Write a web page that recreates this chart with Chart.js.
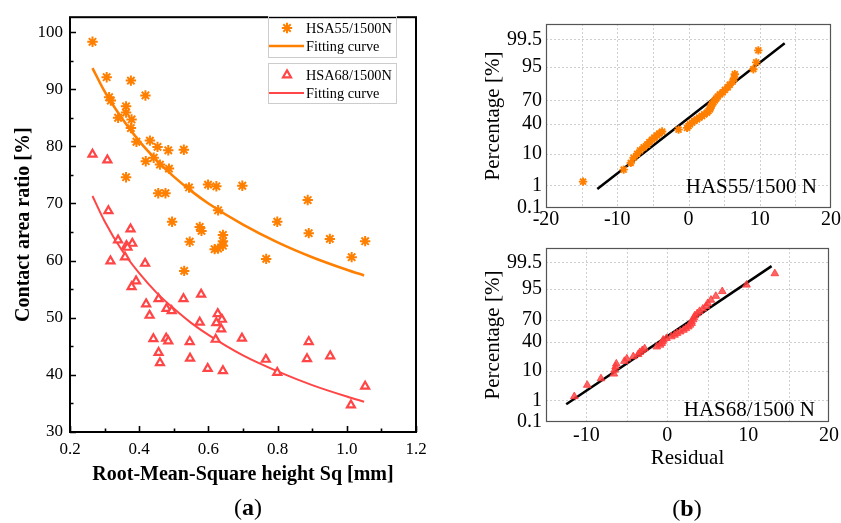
<!DOCTYPE html>
<html><head><meta charset="utf-8">
<script src="https://cdn.jsdelivr.net/npm/chart.js@4"></script>
<style>
html,body{margin:0;padding:0;background:#fff;}
body{width:841px;height:523px;position:relative;overflow:hidden;font-family:'Liberation Serif','Times New Roman',serif;}
canvas{position:absolute;}
#cA{left:0;top:0;}
#cB1{left:470px;top:0;}
#cB2{left:470px;top:232px;}
.lab{position:absolute;font-size:24px;transform:translate(-50%,-50%);white-space:nowrap;color:#000;}
</style></head><body>
<canvas id="cA" width="440" height="523"></canvas>
<canvas id="cB1" width="371" height="234"></canvas>
<canvas id="cB2" width="371" height="291"></canvas>
<div class="lab" style="left:248px;top:507px;">(<b>a</b>)</div>
<div class="lab" style="left:687px;top:508px;">(<b>b</b>)</div>
<script>
// ---------- data: panel (a) ----------
const sqHSA55 = [0.265,0.306,0.376,0.418,0.313,0.318,0.362,0.362,0.339,0.378,0.376,0.392,0.431,0.453,0.484,0.529,0.419,0.442,0.460,0.486,0.362,0.455,0.476,0.544,0.599,0.623,0.698,0.628,0.887,0.495,0.799,0.575,0.580,0.642,0.890,0.951,1.053,0.546,0.642,0.642,0.628,0.618,0.767,1.014,0.530];
const areaHSA55 = [98.3,92.1,91.5,88.9,88.6,88.0,87.0,85.9,85.0,84.7,83.2,80.8,81.0,79.9,79.3,79.4,77.4,78.0,76.8,76.1,74.6,71.8,71.8,72.8,73.3,73.0,73.1,68.8,70.6,66.8,66.8,65.9,65.2,64.5,64.8,63.8,63.4,63.3,63.4,62.6,62.1,62.0,60.3,60.6,58.2];
const sqHSA68 = [0.265,0.308,0.311,0.375,0.339,0.363,0.380,0.366,0.317,0.359,0.417,0.391,0.378,0.579,0.420,0.456,0.528,0.430,0.479,0.494,0.627,0.639,0.623,0.575,0.637,0.621,0.697,0.441,0.478,0.484,0.546,0.890,0.456,0.547,0.766,0.885,0.952,0.460,0.598,0.642,0.799,1.053,1.012];
const areaHSA68 = [78.6,77.6,68.7,65.5,63.6,62.6,63.0,62.3,59.9,60.6,59.5,56.4,55.4,54.1,52.4,53.3,53.3,50.4,51.6,51.2,50.7,49.7,49.1,49.2,48.0,46.2,46.4,46.3,46.4,45.9,45.8,45.8,43.9,42.9,42.7,42.8,43.3,42.1,41.1,40.7,40.4,38.0,34.7];
const fitSq = [0.265,0.3,0.35,0.4,0.45,0.5,0.55,0.6,0.7,0.8,0.9,1.0,1.05];
const fitHSA55 = [93.7,89.6,84.9,80.9,77.6,74.7,72.2,70.0,66.3,63.2,60.6,58.4,57.4];
const fitHSA68 = [71.3,66.9,61.8,57.8,54.4,51.6,49.1,47.0,43.4,40.6,38.2,36.2,35.3];
const xTicksA = [0.2,0.4,0.6,0.8,1.0,1.2];
const xMinorA = [0.3,0.5,0.7,0.9,1.1];
const yTicksA = [30,40,50,60,70,80,90,100];
const yMinorA = [35,45,55,65,75,85,95];

// ---------- data: panel (b) ----------
const resid55 = [-14.8,-9.1,-8.1,-7.7,-7.2,-6.8,-6.3,-5.8,-5.5,-5.1,-4.8,-4.4,-4.1,-3.7,-1.4,-0.2,0.0,0.2,0.5,0.8,1.2,1.5,1.9,2.2,2.6,2.8,3.0,3.1,3.2,3.3,3.5,3.7,3.9,4.1,4.4,4.8,5.1,5.5,5.8,6.2,6.4,6.5,9.1,9.5,9.8];
const pct55 = [1.38,3.59,5.80,8.01,10.22,12.43,14.64,16.85,19.06,21.27,23.48,25.69,27.90,30.11,32.32,34.53,36.74,38.95,41.16,43.37,45.58,47.79,50.00,52.21,54.42,56.63,58.84,61.05,63.26,65.47,67.68,69.89,72.10,74.31,76.52,78.73,80.94,83.15,85.36,87.57,89.78,91.99,94.20,96.41,98.62];
const resid68 = [-11.5,-9.9,-8.2,-6.6,-6.5,-6.4,-6.3,-5.3,-5.0,-4.2,-3.6,-3.4,-3.1,-2.8,-1.3,-0.9,-0.7,-0.6,-0.5,-0.1,0.5,0.9,1.2,1.6,2.0,2.3,2.6,2.8,3.0,3.0,3.2,3.3,3.4,3.7,4.0,4.4,4.8,5.0,5.4,6.0,6.8,9.8,13.3];
const pct68 = [1.45,3.76,6.07,8.38,10.69,13.01,15.32,17.63,19.94,22.25,24.57,26.88,29.19,31.50,33.82,36.13,38.44,40.75,43.06,45.38,47.69,50.00,52.31,54.62,56.94,59.25,61.56,63.87,66.18,68.50,70.81,73.12,75.43,77.75,80.06,82.37,84.68,86.99,89.31,91.62,93.93,96.24,98.55];
const lineResid55 = [-12.8,13.5];
const linePct55 = [0.71,99.27];
const lineResid68 = [-12.5,12.9];
const linePct68 = [0.69,99.28];
const pctTicks = [0.1,1,10,40,70,95,99.5];
const pctTickLabels = ['0.1','1','10','40','70','95','99.5'];
const xTicksB1 = [-20,-15,-10,-5,0,5,10,15,20];
const xTicksB2 = [-15,-10,-5,0,5,10,15,20];

const ORANGE = '#FF7F00';
const RED = '#FF4545';
const SERIF = "'Liberation Serif','Times New Roman',serif";
Chart.defaults.font.family = SERIF;
Chart.defaults.color = '#000';

// inverse standard normal CDF (probability-axis transform)
function probit(p){
  const a=[-3.969683028665376e+01,2.209460984245205e+02,-2.759285104469687e+02,1.383577518672690e+02,-3.066479806614716e+01,2.506628277459239e+00];
  const b=[-5.447609879822406e+01,1.615858368580409e+02,-1.556989798598866e+02,6.680131188771972e+01,-1.328068155288572e+01];
  const c=[-7.784894002430293e-03,-3.223964580411365e-01,-2.400758277161838e+00,-2.549732539343734e+00,4.374664141464968e+00,2.938163982698783e+00];
  const d=[7.784695709041462e-03,3.224671290700398e-01,2.445134137142996e+00,3.754408661907416e+00];
  const pl=0.02425, ph=1-pl; let q,r;
  if(p<pl){q=Math.sqrt(-2*Math.log(p));return (((((c[0]*q+c[1])*q+c[2])*q+c[3])*q+c[4])*q+c[5])/((((d[0]*q+d[1])*q+d[2])*q+d[3])*q+1);}
  if(p<=ph){q=p-0.5;r=q*q;return (((((a[0]*r+a[1])*r+a[2])*r+a[3])*r+a[4])*r+a[5])*q/(((((b[0]*r+b[1])*r+b[2])*r+b[3])*r+b[4])*r+1);}
  q=Math.sqrt(-2*Math.log(1-p));return -(((((c[0]*q+c[1])*q+c[2])*q+c[3])*q+c[4])*q+c[5])/((((d[0]*q+d[1])*q+d[2])*q+d[3])*q+1);
}
const pts = (xs, ys) => xs.map((x,i)=>({x:x, y:ys[i]}));
const ptsP = (xs, ps) => xs.map((x,i)=>({x:x, y:probit(ps[i]/100)}));

// ---------- panel (a) plugins ----------
const frameTicksA = {
  id:'frameTicksA',
  afterDatasetsDraw(chart){
    const {ctx, chartArea:ca, scales:{x,y}} = chart;
    ctx.save();
    ctx.strokeStyle='#000'; ctx.lineWidth=1.6;
    ctx.beginPath();
    xTicksA.forEach(v=>{const px=Math.round(x.getPixelForValue(v))+0.5; ctx.moveTo(px,ca.bottom); ctx.lineTo(px,ca.bottom-6);});
    xMinorA.forEach(v=>{const px=Math.round(x.getPixelForValue(v))+0.5; ctx.moveTo(px,ca.bottom); ctx.lineTo(px,ca.bottom-3.5);});
    yTicksA.forEach(v=>{const py=Math.round(y.getPixelForValue(v))+0.5; ctx.moveTo(ca.left,py); ctx.lineTo(ca.left+6,py);});
    yMinorA.forEach(v=>{const py=Math.round(y.getPixelForValue(v))+0.5; ctx.moveTo(ca.left,py); ctx.lineTo(ca.left+3.5,py);});
    ctx.stroke();
    ctx.lineWidth=2;
    ctx.strokeRect(ca.left,ca.top,ca.right-ca.left,ca.bottom-ca.top);
    ctx.restore();
  }
};
const legendA = {
  id:'legendA',
  afterDraw(chart){
    const ctx = chart.ctx, ds = chart.data.datasets;
    ctx.save();
    ctx.strokeStyle='#cccccc'; ctx.lineWidth=1;
    ctx.strokeRect(268.5,16.5,128,41);
    ctx.strokeRect(268.5,63.5,128,40);
    ctx.font = '14.3px '+SERIF; ctx.fillStyle='#000'; ctx.textAlign='left'; ctx.textBaseline='middle';
    const rows = [[0,28],[2,46],[1,75],[3,93]];
    rows.forEach(([i,yy])=>{
      const d = ds[i];
      if (d.showLine){
        ctx.strokeStyle=d.borderColor; ctx.lineWidth=d.borderWidth;
        ctx.beginPath(); ctx.moveTo(269,yy); ctx.lineTo(304,yy); ctx.stroke();
      } else {
        ctx.strokeStyle=d.borderColor; ctx.fillStyle=d.backgroundColor; ctx.lineWidth=d.borderWidth;
        Chart.helpers.drawPoint(ctx,{pointStyle:d.pointStyle,radius:d.pointRadius,borderWidth:d.borderWidth,rotation:0},287,yy);
      }
      ctx.fillStyle='#000';
      ctx.fillText(d.label,306,yy+1);
    });
    ctx.restore();
  }
};

new Chart(document.getElementById('cA'), {
  type:'scatter',
  data:{datasets:[
    {label:'HSA55/1500N', data:pts(sqHSA55,areaHSA55), pointStyle:'star', pointRadius:5.2, borderWidth:2, borderColor:ORANGE, backgroundColor:ORANGE},
    {label:'HSA68/1500N', data:pts(sqHSA68,areaHSA68), pointStyle:'triangle', pointRadius:4.6, borderWidth:2.2, borderColor:RED, backgroundColor:'#ffffff'},
    {label:'Fitting curve', data:pts(fitSq,fitHSA55), showLine:true, pointRadius:0, borderColor:ORANGE, borderWidth:2.6, cubicInterpolationMode:'monotone', fill:false},
    {label:'Fitting curve', data:pts(fitSq,fitHSA68), showLine:true, pointRadius:0, borderColor:RED, borderWidth:2, cubicInterpolationMode:'monotone', fill:false}
  ]},
  options:{
    responsive:false, animation:false, devicePixelRatio:1,
    layout:{padding:{left:0,top:12,right:24,bottom:0}, autoPadding:false},
    plugins:{legend:{display:false}, tooltip:{enabled:false}},
    scales:{
      x:{type:'linear', min:0.2, max:1.2,
        afterBuildTicks:s=>{s.ticks = xTicksA.map(v=>({value:v}));},
        afterFit:s=>{s.height=91;},
        grid:{display:false, drawTicks:false}, border:{display:false},
        ticks:{autoSkip:false, maxRotation:0, padding:7, color:'#000', font:{family:SERIF, size:17}, callback:v=>Number(v).toFixed(1)},
        title:{display:true, text:'Root-Mean-Square height Sq [mm]', color:'#000', font:{family:SERIF, size:20, weight:'bold'}, padding:{top:0,bottom:36}}
      },
      y:{type:'linear', min:30, max:102.6,
        afterBuildTicks:s=>{s.ticks = yTicksA.map(v=>({value:v}));},
        afterFit:s=>{s.width=70;},
        grid:{display:false, drawTicks:false}, border:{display:false},
        ticks:{autoSkip:false, padding:7, color:'#000', font:{family:SERIF, size:17}, callback:v=>String(v)},
        title:{display:true, text:'Contact area ratio [%]', color:'#000', font:{family:SERIF, size:20, weight:'bold'}, padding:{top:12,bottom:0}}
      }
    }
  },
  plugins:[frameTicksA, legendA]
});

// ---------- panel (b) ----------
function gridFramePlugin(xTicks, note, noteY){
  return {
    id:'gridFrame',
    beforeDatasetsDraw(chart){
      const {ctx, chartArea:ca, scales:{x,y}} = chart;
      ctx.save();
      ctx.strokeStyle='#cfcfcf'; ctx.lineWidth=1; ctx.setLineDash([2,2]);
      ctx.beginPath();
      xTicks.forEach(v=>{const px=Math.round(x.getPixelForValue(v))+0.5; if(px>ca.left+1 && px<ca.right-1){ctx.moveTo(px,ca.top); ctx.lineTo(px,ca.bottom);}});
      pctTicks.forEach(p=>{const py=Math.round(y.getPixelForValue(probit(p/100)))+0.5; if(py>ca.top+1 && py<ca.bottom-1){ctx.moveTo(ca.left,py); ctx.lineTo(ca.right,py);}});
      ctx.stroke();
      ctx.restore();
    },
    afterDatasetsDraw(chart){
      const {ctx, chartArea:ca} = chart;
      ctx.save();
      ctx.strokeStyle='#555'; ctx.lineWidth=1.2;
      ctx.strokeRect(ca.left+0.5,ca.top+0.5,ca.right-ca.left-1,ca.bottom-ca.top-1);
      ctx.font='21px '+SERIF; ctx.fillStyle='#000'; ctx.textAlign='right'; ctx.textBaseline='middle';
      ctx.fillText(note, ca.right-14, ca.top+noteY);
      ctx.restore();
    }
  };
}
function probOptions(xmin,xmax,xTicks,topPad,xAxisH,xPad,xTitle){
  return {
    responsive:false, animation:false, devicePixelRatio:1,
    layout:{padding:{left:0,top:topPad,right:9,bottom:0}, autoPadding:false},
    plugins:{legend:{display:false}, tooltip:{enabled:false}},
    scales:{
      x:{type:'linear', min:xmin, max:xmax,
        afterBuildTicks:s=>{s.ticks = xTicks.map(v=>({value:v}));},
        afterFit:s=>{s.height=xAxisH;},
        grid:{display:false, drawTicks:false}, border:{display:false},
        ticks:{autoSkip:false, maxRotation:0, padding:xPad, color:'#000', font:{family:SERIF, size:20}, callback:v=>(v%10===0?String(v):'')},
        title: xTitle ? {display:true, text:xTitle, color:'#000', font:{family:SERIF, size:21}, padding:{top:0,bottom:52}} : {display:false}
      },
      y:{type:'linear', min:probit(0.001), max:probit(0.999),
        afterBuildTicks:s=>{s.ticks = pctTicks.map(p=>({value:probit(p/100)}));},
        afterFit:s=>{s.width=76;},
        grid:{display:false, drawTicks:false}, border:{display:false},
        ticks:{autoSkip:false, padding:4, color:'#000', font:{family:SERIF, size:20}, callback:(v,i)=>pctTickLabels[i]},
        title:{display:true, text:'Percentage [%]', color:'#000', font:{family:SERIF, size:21}, padding:{top:11,bottom:0}}
      }
    }
  };
}

new Chart(document.getElementById('cB1'), {
  type:'scatter',
  data:{datasets:[
    {label:'HAS55/1500 N', data:ptsP(resid55,pct55), pointStyle:'star', pointRadius:4.2, borderWidth:1.9, borderColor:ORANGE, backgroundColor:ORANGE},
    {label:'Reference line', data:ptsP(lineResid55,linePct55), showLine:true, pointRadius:0, borderColor:'#000', borderWidth:2.5}
  ]},
  options:probOptions(-20,20,xTicksB1,24,26,0,null),
  plugins:[gridFramePlugin(xTicksB1,'HAS55/1500 N',163)]
});

new Chart(document.getElementById('cB2'), {
  type:'scatter',
  data:{datasets:[
    {label:'HAS68/1500 N', data:ptsP(resid68,pct68), pointStyle:'triangle', pointRadius:4.4, borderWidth:1, borderColor:'rgba(255,60,60,0.85)', backgroundColor:'rgba(255,60,60,0.8)'},
    {label:'Reference line', data:ptsP(lineResid68,linePct68), showLine:true, pointRadius:0, borderColor:'#000', borderWidth:2.5}
  ]},
  options:probOptions(-15,20,xTicksB2,6,101,2,'Residual'),
  plugins:[gridFramePlugin(xTicksB2,'HAS68/1500 N',162)]
});
</script>
</body></html>
